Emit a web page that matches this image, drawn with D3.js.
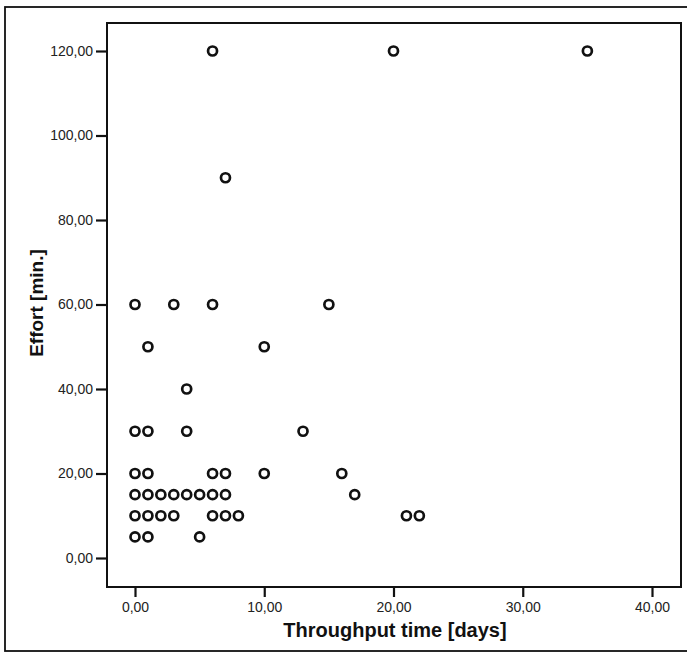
<!DOCTYPE html>
<html><head><meta charset="utf-8">
<script src="https://cdn.jsdelivr.net/npm/d3@7"></script>
<style>body{margin:0;background:#fff}svg{display:block}</style>
</head><body>
<script>
const xValues = [6,20,35, 7, 0,3,6,15, 1,10, 4, 0,1,4,13, 0,1,6,7,10,16, 0,1,2,3,4,5,6,7,17, 0,1,2,3,6,7,8,21,22, 0,1,5];
const yValues = [120,120,120, 90, 60,60,60,60, 50,50, 40, 30,30,30,30, 20,20,20,20,20,20, 15,15,15,15,15,15,15,15,15, 10,10,10,10,10,10,10,10,10, 5,5,5];
const xTicks = [0,10,20,30,40];
const yTicks = [0,20,40,60,80,100,120];
const xTitle = "Throughput time [days]";
const yTitle = "Effort [min.]";

const W = 687, H = 660;
const svg = d3.select("body").append("svg").attr("width", W).attr("height", H);
const font = "'Liberation Sans', Arial, sans-serif";

// outer frame
svg.append("rect").attr("x",5).attr("y",7).attr("width",W+10).attr("height",644)
  .attr("fill","none").attr("stroke","#111").attr("stroke-width",1.8);

const box = {l:107, t:23, r:681, b:587};
const x = d3.scaleLinear().domain([0,40]).range([135,652]);
const y = d3.scaleLinear().domain([0,120]).range([558,51]);
const fmt = d => d3.format(".2f")(d).replace(".", ",");

svg.append("rect").attr("x",box.l).attr("y",box.t).attr("width",box.r-box.l).attr("height",box.b-box.t)
  .attr("fill","none").attr("stroke","#111").attr("stroke-width",2);

const xAxis = svg.append("g").attr("transform",`translate(0,${box.b})`)
  .call(d3.axisBottom(x).tickValues(xTicks).tickFormat(fmt).tickSize(10).tickPadding(5));
const yAxis = svg.append("g").attr("transform",`translate(${box.l},0)`)
  .call(d3.axisLeft(y).tickValues(yTicks).tickFormat(fmt).tickSize(11).tickPadding(3));
[xAxis,yAxis].forEach(g=>{
  g.select(".domain").remove();
  g.selectAll(".tick line").attr("stroke","#111").attr("stroke-width",2.2);
  g.selectAll(".tick text").attr("fill","#222").style("font-family",font).style("font-size","14px");
});

svg.append("text").attr("x",395).attr("y",637).attr("text-anchor","middle")
  .style("font-family",font).style("font-size","20px").style("font-weight","bold").attr("fill","#111").text(xTitle);
svg.append("text").attr("transform","translate(43,303) rotate(-90)").attr("text-anchor","middle")
  .style("font-family",font).style("font-size","19px").style("font-weight","bold").attr("fill","#111").text(yTitle);

svg.append("g").selectAll("circle").data(xValues.map((v,i)=>[v,yValues[i]])).join("circle")
  .attr("cx",d=>x(d[0])).attr("cy",d=>y(d[1])).attr("r",4.5)
  .attr("fill","none").attr("stroke","#111").attr("stroke-width",2.7);
</script>
</body></html>
